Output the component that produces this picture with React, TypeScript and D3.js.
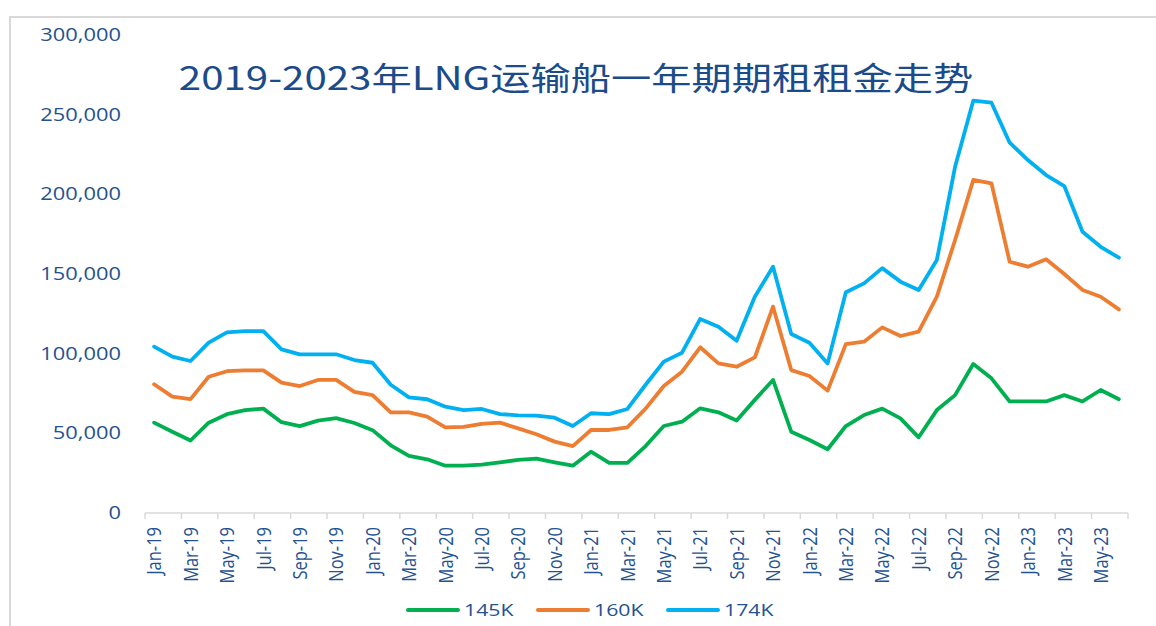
import React from 'react'
import * as d3 from 'd3'

const months = [
  'Jan-19', 'Feb-19', 'Mar-19', 'Apr-19', 'May-19', 'Jun-19', 'Jul-19', 'Aug-19', 'Sep-19', 'Oct-19', 'Nov-19', 'Dec-19',
  'Jan-20', 'Feb-20', 'Mar-20', 'Apr-20', 'May-20', 'Jun-20', 'Jul-20', 'Aug-20', 'Sep-20', 'Oct-20', 'Nov-20', 'Dec-20',
  'Jan-21', 'Feb-21', 'Mar-21', 'Apr-21', 'May-21', 'Jun-21', 'Jul-21', 'Aug-21', 'Sep-21', 'Oct-21', 'Nov-21', 'Dec-21',
  'Jan-22', 'Feb-22', 'Mar-22', 'Apr-22', 'May-22', 'Jun-22', 'Jul-22', 'Aug-22', 'Sep-22', 'Oct-22', 'Nov-22', 'Dec-22',
  'Jan-23', 'Feb-23', 'Mar-23', 'Apr-23', 'May-23', 'Jun-23'
]

const k145 = [
  56700, 51000, 45500, 56700, 62000, 64500, 65500, 57000, 54500, 58000, 59500, 56500,
  52000, 42500, 35800, 33700, 29700, 29700, 30300, 31800, 33300, 34100, 31800, 29700,
  38500, 31400, 31400, 42000, 54600, 57300, 65700, 63200, 58000, 71000, 83500, 51000,
  45800, 40000, 54600, 61500, 65500, 59400, 47500, 64600, 74000, 93500, 84500, 70000,
  70000, 70000, 74000, 70000, 77200, 71400
]

const k160 = [
  80800, 73000, 71500, 85500, 89000, 89500, 89500, 81800, 79700, 83500, 83500, 76000,
  74000, 63200, 63200, 60500, 53800, 54000, 56000, 56700, 53100, 49400, 44800, 42000,
  52100, 52100, 53800, 65500, 79700, 88700, 104000, 93900, 91800, 97700, 129500, 89700,
  86000, 76800, 106000, 107500, 116500, 111100, 113800, 135800, 171300, 209000, 206900, 157700,
  154600, 159200, 150000, 140000, 135700, 127800
]

const k174 = [
  104400, 98100, 95400, 106900, 113400, 114200, 114200, 102700, 99600, 99600, 99600, 96000,
  94300, 80500, 72600, 71400, 66700, 64600, 65300, 62100, 61300, 61100, 59800, 54600,
  62600, 62100, 65300, 80500, 95000, 100600, 121800, 116900, 108100, 135700, 154600, 112300,
  106900, 93900, 138500, 144100, 153700, 145200, 140000, 158800, 217300, 258800, 257500, 232400,
  221500, 212100, 205200, 176500, 167100, 160200
]

const seriesNames = ['145K', '160K', '174K']
const seriesColors = ['#00b050', '#ed7d31', '#00b0f0']
const yTicks = [0, 50000, 100000, 150000, 200000, 250000, 300000]

const textColor = '#24528f'
const SX = 1.25

export default function App () {
  const x = d3.scaleBand<string>().domain(months).range([145, 1128]).padding(0)
  const y = d3.scaleLinear().domain([0, 300000]).range([513, 35])
  const bw = x.bandwidth()
  const cx = (m: string) => (x(m) as number) + bw / 2
  const line = d3.line<number>().x((d, i) => cx(months[i])).y(d => y(d))
  const fmt = d3.format(',')
  const all = [k145, k160, k174]

  const tickIdx = d3.range(0, months.length + 1, 2)
  const legendX = [408, 538, 668]

  return (
    <div style={{position: 'absolute', left: 0, top: 0}}>
      <svg width={1156} height={626} style={{display: 'block', background: '#fff'}}>
        <rect x={10} y={17} width={1300} height={700} fill='none' stroke='#d9d9d9' strokeWidth={2} />

        <g transform={`translate(576,90) scale(${SX},1)`}>
          <text textAnchor='middle' fontFamily='"Noto Sans CJK SC", "Open Sans", sans-serif' fontSize={32.2} fill='#1c4b8a'>
            2019-2023年LNG运输船一年期期租租金走势
          </text>
        </g>

        {yTicks.map(t => (
          <g key={t} transform={`translate(121,${y(t)}) scale(${SX},1)`}>
            <text textAnchor='end' dy='0.35em' fontFamily='"Open Sans", sans-serif' fontSize={17.5} fill={textColor}>
              {fmt(t)}
            </text>
          </g>
        ))}

        <line x1={145} x2={1128} y1={y(0)} y2={y(0)} stroke='#d9d9d9' strokeWidth={1.5} />
        {tickIdx.map(i => {
          const tx = i < months.length ? (x(months[i]) as number) : x.range()[1]
          return <line key={i} x1={tx} x2={tx} y1={y(0)} y2={y(0) + 6} stroke='#d9d9d9' strokeWidth={1.5} />
        })}

        {months.map((m, i) => i % 2 === 0 ? (
          <g key={m} transform={`translate(${cx(m)},527) scale(${SX},1) rotate(-90)`}>
            <text textAnchor='end' dy='0.35em' fontFamily='"Open Sans", sans-serif' fontSize={16.5} fill={textColor}>
              {m}
            </text>
          </g>
        ) : null)}

        {all.map((s, k) => (
          <path key={k} d={line(s) as string} fill='none' stroke={seriesColors[k]} strokeWidth={3.8}
            strokeLinejoin='round' strokeLinecap='round' />
        ))}

        {seriesNames.map((n, k) => (
          <g key={n}>
            <line x1={legendX[k]} x2={legendX[k] + 50} y1={610} y2={610} stroke={seriesColors[k]} strokeWidth={4} strokeLinecap='round' />
            <g transform={`translate(${legendX[k] + 56},610) scale(${SX},1)`}>
              <text dy='0.35em' fontFamily='"Open Sans", sans-serif' fontSize={17} fill={textColor}>{n}</text>
            </g>
          </g>
        ))}
      </svg>
    </div>
  )
}
